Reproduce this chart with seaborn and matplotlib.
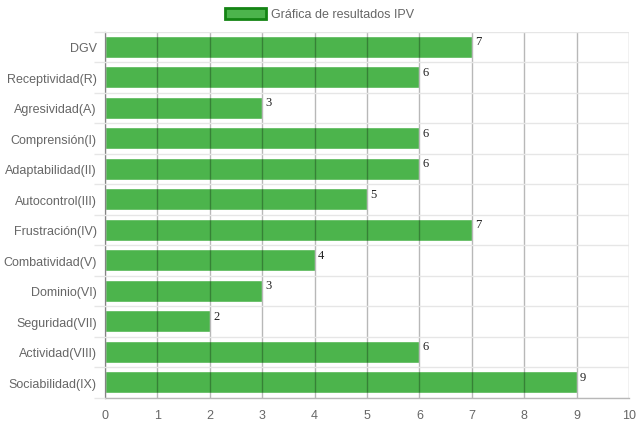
import matplotlib
matplotlib.use("Agg")
import matplotlib.pyplot as plt
import matplotlib.patches as mpatches
import seaborn as sns
import pandas as pd
import numpy as np

categories = ["DGV", "Receptividad(R)", "Agresividad(A)", "Comprensión(I)",
              "Adaptabilidad(II)", "Autocontrol(III)", "Frustración(IV)",
              "Combatividad(V)", "Dominio(VI)", "Seguridad(VII)",
              "Actividad(VIII)", "Sociabilidad(IX)"]
values = [7, 6, 3, 6, 6, 5, 7, 4, 3, 2, 6, 9]
x_ticks = [0, 1, 2, 3, 4, 5, 6, 7, 8, 9, 10]
legend_label = "Gráfica de resultados IPV"

sns.set_theme(style="white")
plt.rcParams['font.family'] = ['Liberation Sans', 'DejaVu Sans']

df = pd.DataFrame({"cat": categories, "val": values})

W, H = 639, 427
fig = plt.figure(figsize=(W / 100, H / 100), dpi=100)
left, right, top, bottom = 105, 629, 32.5, 398.5
ax = fig.add_axes([left / W, (H - bottom) / H, (right - left) / W, (bottom - top) / H])

bar_color = "#4CB44C"
sns.barplot(data=df, x="val", y="cat", orient="h", color=bar_color,
            saturation=1, width=0.72, ax=ax, zorder=1)

ax.set_xlim(0, 10)
ax.set_ylim(len(categories) - 0.5, -0.5)
ax.set_xticks(x_ticks)
ax.set_xlabel("")
ax.set_ylabel("")

ax.set_yticks(np.arange(-0.5, len(categories), 1.0), minor=True)
ax.set_axisbelow(False)
ax.grid(axis="x", which="major", color="#000000", alpha=0.28, linewidth=1, zorder=3)
ax.grid(axis="y", which="minor", color="#e6e6e6", alpha=1, linewidth=1, zorder=0.5)
ax.grid(axis="y", which="major", visible=False)

ax.tick_params(axis="x", which="major", length=7, color="#b8b8b8",
               labelcolor="#666666", labelsize=9, pad=1, direction="out")
ax.tick_params(axis="y", which="major", length=0, labelcolor="#666666",
               labelsize=9, pad=6)
ax.tick_params(axis="y", which="minor", length=8, color="#e6e6e6",
               direction="out", left=True)

for s in ["top", "right"]:
    ax.spines[s].set_visible(False)
for s in ["left", "bottom"]:
    ax.spines[s].set_color("#b8b8b8")
    ax.spines[s].set_linewidth(1)

for i, v in enumerate(values):
    ax.text(v + 0.06, i - 0.37, str(v), ha="left", va="top",
            fontsize=9, color="#222222", family="Liberation Serif", zorder=5)

handle = mpatches.Patch(facecolor=bar_color, edgecolor="#148414", linewidth=2,
                        label=legend_label)
fig.legend(handles=[handle], loc="upper center", bbox_to_anchor=(0.5, 1.0),
           frameon=False, fontsize=9, handlelength=3.3, handleheight=0.95,
           handletextpad=0.45, labelcolor="#666666", borderaxespad=0.3)

fig.savefig("out.png", dpi=100)
